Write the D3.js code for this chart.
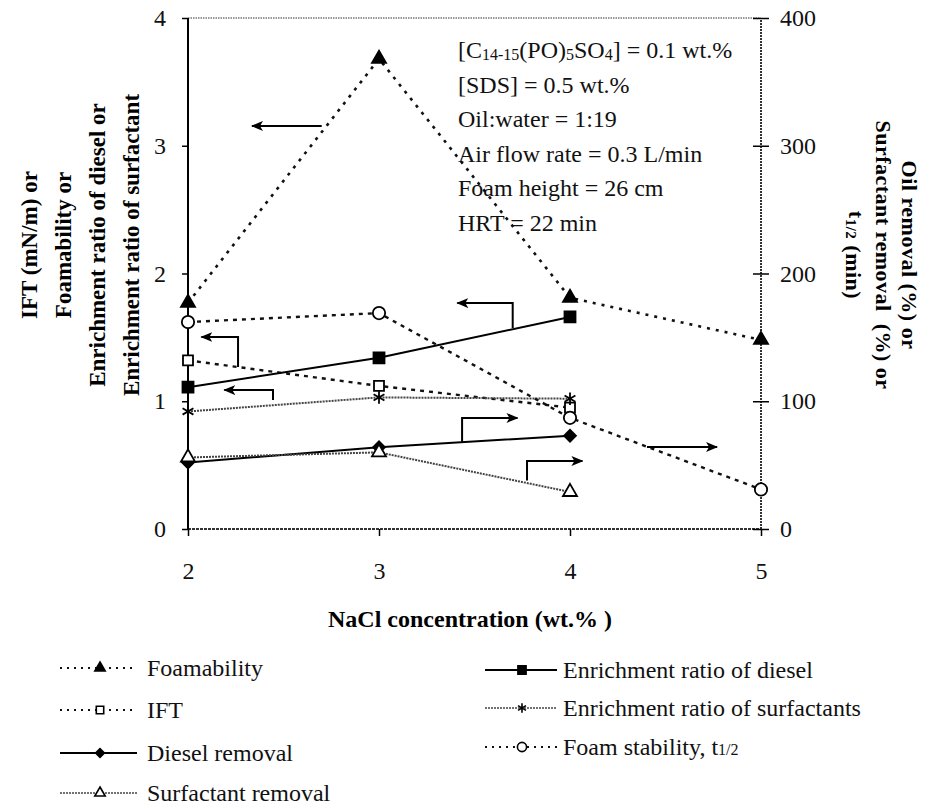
<!DOCTYPE html>
<html>
<head>
<meta charset="utf-8">
<script src="https://cdn.jsdelivr.net/npm/d3@7"></script>
<style>
  html, body { margin: 0; padding: 0; background: #fff; }
  svg { display: block; font-family: "Liberation Serif", "Times New Roman", serif; }
</style>
</head>
<body>
<svg id="chart" width="937" height="809"></svg>
<script>
// NaCl concentration (wt.%)
const nacl = [2, 3, 4, 5];
const naclShort = [2, 3, 4];

// Left-axis series
const foamability = [1.77, 3.68, 1.81, 1.48];
const ift = [1.32, 1.12, 0.95];
const erDiesel = [1.11, 1.34, 1.66];
const erSurfactant = [0.92, 1.03, 1.02];

// Right-axis series
const dieselRemoval = [52, 64, 73];
const surfactantRemoval = [56, 60, 29];
const foamStability = [162, 169, 87, 31];

// Axis ticks
const xTicks = [2, 3, 4, 5];
const leftTicks = [0, 1, 2, 3, 4];
const rightTicks = [0, 100, 200, 300, 400];

// Experimental conditions shown inside the plot
const conditions = [
  [["[C", 0], ["14-15", 1], ["(PO)", 0], ["5", 1], ["SO", 0], ["4", 1], ["] = 0.1 wt.%", 0]],
  [["[SDS] = 0.5 wt.%", 0]],
  [["Oil:water = 1:19", 0]],
  [["Air flow rate = 0.3 L/min", 0]],
  [["Foam height = 26 cm", 0]],
  [["HRT = 22 min", 0]]
];

// Pointer arrows telling which axis a curve belongs to (data units of the left axis)
const arrows = [
  [[2.70, 3.155], [2.335, 3.155]],
  [[3.70, 1.573], [3.70, 1.769], [3.41, 1.769]],
  [[2.262, 1.268], [2.262, 1.503], [2.07, 1.503]],
  [[2.445, 1.01], [2.445, 1.088], [2.19, 1.088]],
  [[3.435, 0.681], [3.435, 0.869], [3.725, 0.869]],
  [[3.775, 0.38], [3.775, 0.532], [4.065, 0.532]],
  [[4.403, 0.642], [4.77, 0.642]]
];

const svg = d3.select("#chart");
const x = d3.scaleLinear().domain([2, 5]).range([188, 761]);
const yL = d3.scaleLinear().domain([0, 4]).range([529, 18]);
const yR = d3.scaleLinear().domain([0, 400]).range([529, 18]);

// Frame
svg.append("line").attr("x1", x(2)).attr("x2", x(5)).attr("y1", yL(4)).attr("y2", yL(4))
  .attr("stroke", "#777").attr("stroke-width", 1.5).attr("stroke-dasharray", "1.5,1");
svg.append("line").attr("x1", x(2)).attr("x2", x(5)).attr("y1", yL(0)).attr("y2", yL(0))
  .attr("stroke", "#333").attr("stroke-width", 2).attr("stroke-dasharray", "3,1");
svg.append("line").attr("x1", x(5)).attr("x2", x(5)).attr("y1", yR(0)).attr("y2", yR(400))
  .attr("stroke", "#333").attr("stroke-width", 2).attr("stroke-dasharray", "2,1");
svg.append("line").attr("x1", x(2)).attr("x2", x(2)).attr("y1", yL(0)).attr("y2", yL(4))
  .attr("stroke", "#000").attr("stroke-width", 2);

// Axes
function styleAxis(g) {
  g.select(".domain").remove();
  g.selectAll(".tick line").attr("stroke", "#000").attr("stroke-width", 1.5);
  g.selectAll(".tick text").attr("fill", "#111").style("font-size", "24px")
    .style("font-family", "'Liberation Serif', serif");
}
svg.append("g").attr("transform", `translate(${x(2)},0)`)
  .call(d3.axisLeft(yL).tickValues(leftTicks).tickSize(6).tickPadding(16).tickFormat(d3.format("d")))
  .call(styleAxis);
svg.append("g").attr("transform", `translate(${x(5)},0)`)
  .call(d3.axisRight(yR).tickValues(rightTicks).tickSize(8).tickPadding(11).tickFormat(d3.format("d")))
  .call(styleAxis)
  .call(g => g.selectAll(".tick line").attr("x1", -8));
svg.append("g").attr("transform", `translate(0,${yL(0)})`)
  .call(d3.axisBottom(x).tickValues(xTicks).tickSize(7).tickPadding(26).tickFormat(d3.format("d")))
  .call(styleAxis);

// Axis titles
svg.append("text").attr("x", 470).attr("y", 627).attr("text-anchor", "middle")
  .style("font-size", "24px").style("font-weight", "bold").text("NaCl concentration (wt.% )");

const leftTitle = ["IFT (mN/m) or", "Foamability or", "Enrichment ratio of diesel or", "Enrichment ratio of surfactant"];
const leftTitleX = [29, 63, 97, 131];
leftTitle.forEach((t, i) => {
  svg.append("text")
    .attr("transform", `translate(${leftTitleX[i]},245) rotate(-90)`)
    .attr("text-anchor", "middle").attr("dy", "0.35em")
    .style("font-size", "23px").style("font-weight", "bold").text(t);
});

const rightTitleX = [910, 884, 857];
const rightTitle = [
  [["Oil removal (%) or", 0]],
  [["Surfactant removal  (%) or", 0]],
  [["t", 0], ["1/2", 1], [" (min)", 0]]
];
rightTitle.forEach((parts, i) => {
  const t = svg.append("text")
    .attr("transform", `translate(${rightTitleX[i]},255) rotate(90)`)
    .attr("text-anchor", "middle").attr("dy", "0.35em")
    .style("font-size", "22px").style("font-weight", "bold")
    .style("letter-spacing", "0.5px").style("white-space", "pre");
  parts.forEach(([s, sub]) => {
    t.append("tspan").style("font-size", sub ? "15px" : null).attr("dy", sub ? 3 : null).text(s);
  });
});

// Conditions box text
const condBase = [58, 93, 127, 162, 196, 231];
conditions.forEach((parts, i) => {
  const t = svg.append("text").attr("x", 458).attr("y", condBase[i])
    .style("font-size", "24px").attr("fill", "#111");
  let lowered = false;
  parts.forEach(([s, sub]) => {
    const ts = t.append("tspan").text(s);
    if (sub && !lowered) { ts.style("font-size", "16px").attr("dy", 2); lowered = true; }
    else if (sub) { ts.style("font-size", "16px"); }
    else if (lowered) { ts.attr("dy", -2); lowered = false; }
  });
});

// Line generators
const lineL = d3.line().x((d, i) => x(d[0])).y(d => yL(d[1]));
const lineR = d3.line().x(d => x(d[0])).y(d => yR(d[1]));
const zip = (xs, ys) => ys.map((v, i) => [xs[i], v]);

const series = [
  { name: "Foamability", data: zip(nacl, foamability), axis: "L", dash: "3,6", w: 2.6, color: "#111", sym: d3.symbolTriangle, size: 85, fill: "#000" },
  { name: "IFT", data: zip(naclShort, ift), axis: "L", dash: "4,5", w: 2.4, color: "#111", sym: d3.symbolSquare, size: 100, fill: "#fff" },
  { name: "Diesel removal", data: zip(naclShort, dieselRemoval), axis: "R", dash: null, w: 2, color: "#000", sym: "diamond", size: 70, fill: "#000" },
  { name: "Surfactant removal", data: zip(naclShort, surfactantRemoval), axis: "R", dash: "2,1", w: 2, color: "#444", sym: d3.symbolTriangle, size: 85, fill: "#fff" },
  { name: "Enrichment ratio of diesel", data: zip(naclShort, erDiesel), axis: "L", dash: null, w: 2, color: "#000", sym: d3.symbolSquare, size: 121, fill: "#000" },
  { name: "Enrichment ratio of surfactants", data: zip(naclShort, erSurfactant), axis: "L", dash: "2,1", w: 2, color: "#444", sym: d3.symbolAsterisk, size: 110, fill: "none" },
  { name: "Foam stability", data: zip(nacl, foamStability), axis: "R", dash: "4,5", w: 2.4, color: "#111", sym: d3.symbolCircle, size: 120, fill: "#fff" }
];

function symPath(s, size) {
  if (s === "diamond") return d3.symbol(d3.symbolSquare, size)();
  return d3.symbol(s, size)();
}
function symTransform(s) { return s === "diamond" ? " rotate(45)" : ""; }

series.forEach(s => {
  const gen = s.axis === "L" ? lineL : lineR;
  const yS = s.axis === "L" ? yL : yR;
  svg.append("path").attr("d", gen(s.data)).attr("fill", "none")
    .attr("stroke", s.color).attr("stroke-width", s.w)
    .attr("stroke-dasharray", s.dash);
});
series.forEach(s => {
  const yS = s.axis === "L" ? yL : yR;
  svg.append("g").selectAll("path").data(s.data).join("path")
    .attr("d", symPath(s.sym, s.size))
    .attr("transform", d => `translate(${x(d[0])},${yS(d[1])})${symTransform(s.sym)}`)
    .attr("fill", s.fill).attr("stroke", "#000").attr("stroke-width", 1.8);
});

// Arrows
svg.append("defs").append("marker").attr("id", "head")
  .attr("viewBox", "0 0 12 10").attr("refX", 11).attr("refY", 5)
  .attr("markerWidth", 12).attr("markerHeight", 10).attr("markerUnits", "userSpaceOnUse")
  .attr("orient", "auto")
  .append("path").attr("d", "M0,0 L12,5 L0,10 L3,5 Z").attr("fill", "#000");
arrows.forEach(a => {
  svg.append("path").attr("d", lineL(a)).attr("fill", "none")
    .attr("stroke", "#000").attr("stroke-width", 2).attr("marker-end", "url(#head)");
});

// Legend
const legendLeft = [series[0], series[1], series[2], series[3]];
const legendRight = [series[4], series[5], series[6]];
const leftRows = [668, 710, 753, 793];
const rightRows = [670, 708, 747];
function legendItem(s, x0, x1, xm, xt, y, label) {
  const g = svg.append("g");
  g.append("line").attr("x1", x0).attr("x2", x1).attr("y1", y).attr("y2", y)
    .attr("stroke", s.color).attr("stroke-width", s.dash === "2,1" ? 1.6 : (s.dash ? 2 : 2))
    .attr("stroke-dasharray", s.dash ? (s.dash === "2,1" ? "2,1" : "2,5") : null);
  g.append("path").attr("d", symPath(s.sym, s.size * 0.55))
    .attr("transform", `translate(${xm},${y})${symTransform(s.sym)}`)
    .attr("fill", s.fill).attr("stroke", "#000").attr("stroke-width", 1.6);
  const t = g.append("text").attr("x", xt).attr("y", y + 8).style("font-size", "24px").attr("fill", "#111");
  label.forEach(([str, sub]) => {
    t.append("tspan").style("font-size", sub ? "16px" : null).text(str);
  });
}
legendLeft.forEach((s, i) => legendItem(s, 60, 137, 100, 147, leftRows[i], [[s.name, 0]]));
const rightLabels = [
  [["Enrichment ratio of diesel", 0]],
  [["Enrichment ratio of surfactants", 0]],
  [["Foam stability, t", 0], ["1/2", 1]]
];
legendRight.forEach((s, i) => legendItem(s, 485, 557, 522, 563, rightRows[i], rightLabels[i]));
</script>
</body>
</html>
